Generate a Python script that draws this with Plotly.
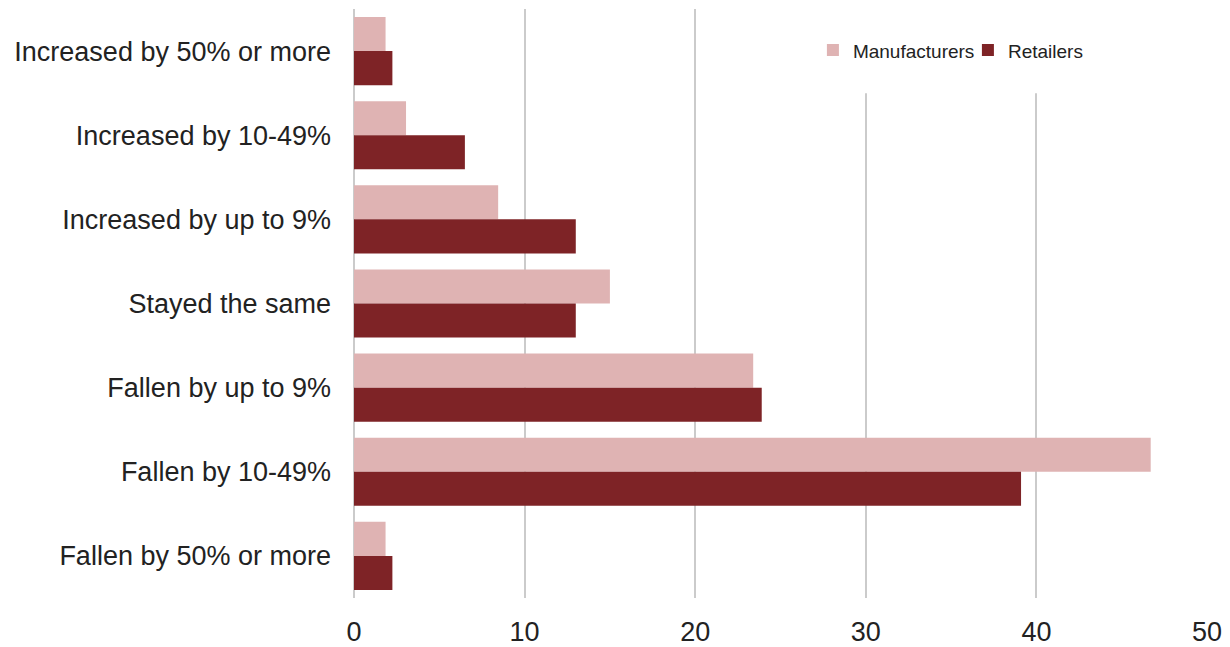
import plotly.graph_objects as go

categories = [
    "Increased by 50% or more",
    "Increased by 10-49%",
    "Increased by up to 9%",
    "Stayed the same",
    "Fallen by up to 9%",
    "Fallen by 10-49%",
    "Fallen by 50% or more",
]
manufacturers = [1.85, 3.05, 8.45, 15.0, 23.4, 46.7, 1.85]
retailers = [2.25, 6.5, 13.0, 13.0, 23.9, 39.1, 2.25]
x_ticks = [0, 10, 20, 30, 40, 50]

FONT = "Liberation Sans, Arial, sans-serif"
TEXT = "#222222"
GRID = "#CBCBCB"

fig = go.Figure()
fig.add_trace(go.Bar(name="Manufacturers", y=categories, x=manufacturers,
                     orientation="h", marker=dict(color="#DFB3B3", line=dict(width=0))))
fig.add_trace(go.Bar(name="Retailers", y=categories, x=retailers,
                     orientation="h", marker=dict(color="#7E2326", line=dict(width=0))))

# white area behind legend hiding gridlines
fig.add_shape(type="rect", xref="paper", yref="paper", x0=0.47, x1=0.94, y0=0.857, y1=1.02,
              fillcolor="white", line=dict(width=0), layer="above")

fig.update_layout(
    width=1230, height=647,
    margin=dict(l=354, r=23, t=9, b=49, autoexpand=False),
    paper_bgcolor="white", plot_bgcolor="white",
    barmode="group", bargap=0.19, bargroupgap=0,
    font=dict(family=FONT, color=TEXT, size=27),
    legend=dict(orientation="h", x=0.538, xanchor="left", y=0.93, yanchor="middle",
                font=dict(size=19, color=TEXT), bgcolor="rgba(0,0,0,0)",
                itemwidth=30, tracegroupgap=0, entrywidth=110, entrywidthmode="pixels"),
    showlegend=True,
)
fig.update_xaxes(range=[0, 50], tickvals=x_ticks, showgrid=True, gridcolor=GRID, gridwidth=1.5,
                 zeroline=True, zerolinecolor=GRID, zerolinewidth=1.5, showline=False,
                 ticks="", ticklabelstandoff=15, automargin=False,
                 tickfont=dict(size=27, color=TEXT))
fig.update_yaxes(autorange="reversed", showgrid=False, showline=False, ticks="",
                 ticklabelstandoff=22, automargin=False, tickfont=dict(size=27, color=TEXT))

fig.write_html("out.html", config={"displayModeBar": False},
               post_script="document.body.style.margin='0';")
